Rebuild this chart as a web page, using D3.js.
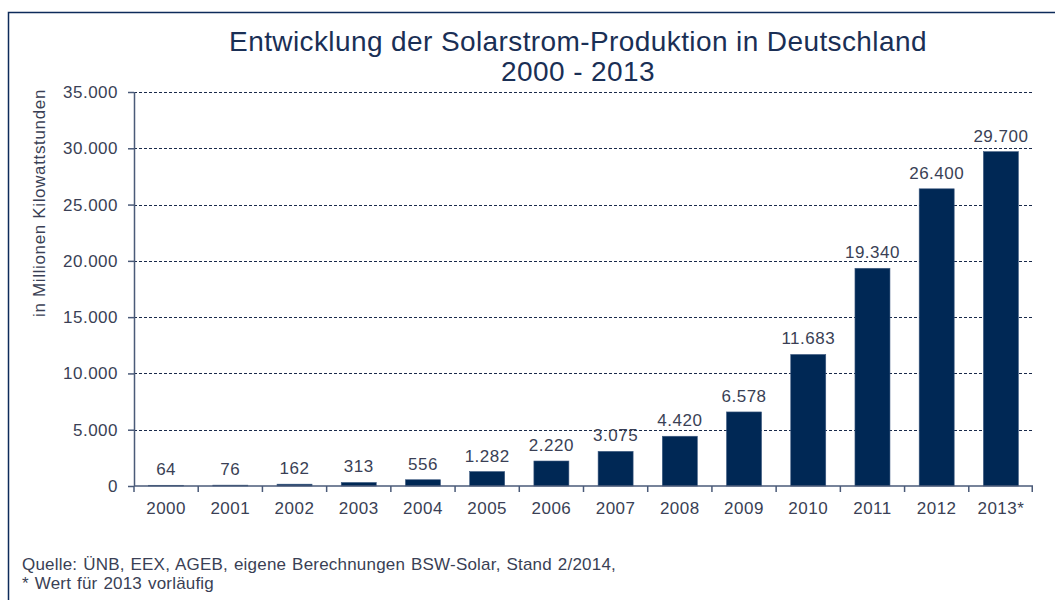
<!DOCTYPE html>
<html>
<head>
<meta charset="utf-8">
<script src="https://cdn.jsdelivr.net/npm/d3@7"></script>
<style>
	body { margin: 0; background: #fff; }
	text { font-family: "Liberation Sans", Arial, sans-serif; }
</style>
</head>
<body>
<div id="chart"></div>
<script>
'use strict';

// chart data
const years = ["2000", "2001", "2002", "2003", "2004", "2005", "2006",
	"2007", "2008", "2009", "2010", "2011", "2012", "2013*"];
const production = [64, 76, 162, 313, 556, 1282, 2220, 3075, 4420, 6578,
	11683, 19340, 26400, 29700];
const yTicks = [0, 5000, 10000, 15000, 20000, 25000, 30000, 35000];
const titleLines = ["Entwicklung der Solarstrom-Produktion in Deutschland", "2000 - 2013"];
const yLabel = "in Millionen Kilowattstunden";
const notes = ["Quelle: ÜNB, EEX, AGEB, eigene Berechnungen BSW-Solar, Stand 2/2014,",
	"* Wert für 2013 vorläufig"];

const width = 1055, height = 600;
const margin = { top: 92, right: 22, bottom: 114, left: 134 };
const navy = "#002855";
const textCol = "#3a3f55";
const fs = 17;
const ls = 0.5;

const de = d3.formatLocale({ decimal: ",", thousands: ".", grouping: [3], currency: ["", " €"] });
const fmt = de.format(",d");

const svg = d3.select("#chart")
	.append("svg")
		.attr("width", width)
		.attr("height", height);

// outer frame
svg.append("rect")
	.attr("x", 8.5)
	.attr("y", 12.5)
	.attr("width", width)
	.attr("height", height)
	.attr("fill", "none")
	.attr("stroke", "#0d2b5a")
	.attr("stroke-width", 1.5);

const innerH = height - margin.top - margin.bottom;
const innerW = width - margin.left - margin.right;

const bounds = svg.append("g")
	.attr("transform", `translate(${margin.left},${margin.top})`);

const x = d3.scaleBand()
	.domain(years)
	.range([0, innerW])
	.paddingInner(0.455)
	.paddingOuter(0.2275);

const y = d3.scaleLinear()
	.domain([0, 35000])
	.range([innerH, 0]);

// gridlines
bounds.append("g")
	.selectAll("line")
	.data(yTicks.filter(d => d > 0))
	.join("line")
		.attr("x1", 0)
		.attr("x2", innerW)
		.attr("y1", d => Math.round(y(d)) + 0.5)
		.attr("y2", d => Math.round(y(d)) + 0.5)
		.attr("stroke", "#1a2a4a")
		.attr("stroke-width", 1)
		.attr("stroke-dasharray", "3,2");

// bars
bounds.append("g")
	.selectAll("rect")
	.data(production)
	.join("rect")
		.attr("x", (d, i) => x(years[i]))
		.attr("y", d => y(d))
		.attr("width", x.bandwidth())
		.attr("height", d => innerH - y(d))
		.attr("fill", navy)
		.attr("stroke", "#3d5a80")
		.attr("stroke-width", 0.6);

// value labels
bounds.append("g")
	.selectAll("text")
	.data(production)
	.join("text")
		.attr("x", (d, i) => x(years[i]) + x.bandwidth() / 2)
		.attr("y", d => y(d) - 10)
		.attr("text-anchor", "middle")
		.attr("font-size", fs)
		.attr("letter-spacing", ls)
		.attr("fill", textCol)
		.text(d => fmt(d));

// y axis
const yAxis = bounds.append("g")
	.call(d3.axisLeft(y).tickValues(yTicks).tickSize(6).tickPadding(10).tickFormat(fmt));
yAxis.select(".domain").attr("stroke", "#4a5a78").attr("stroke-width", 1.5).attr("d", `M0.5,${innerH}V0`);
yAxis.selectAll(".tick line").attr("stroke", "#4a5a78").attr("stroke-width", 1.5);
yAxis.selectAll(".tick text")
	.attr("font-size", fs)
	.attr("letter-spacing", ls)
	.attr("font-family", "Liberation Sans, Arial, sans-serif")
	.attr("fill", textCol);

// x axis: ticks sit on band boundaries
const xAxis = bounds.append("g")
	.attr("transform", `translate(0,${innerH})`);
xAxis.append("line")
	.attr("x1", 0)
	.attr("x2", innerW)
	.attr("stroke", "#4a5a78")
	.attr("stroke-width", 1.5);
const step = x.step();
xAxis.selectAll("line.tk")
	.data(d3.range(years.length + 1))
	.join("line")
		.attr("class", "tk")
		.attr("x1", i => Math.min(i * step, innerW - 0.75))
		.attr("x2", i => Math.min(i * step, innerW - 0.75))
		.attr("y1", 0)
		.attr("y2", 6)
		.attr("stroke", "#4a5a78")
		.attr("stroke-width", 1.5);
xAxis.selectAll("text")
	.data(years)
	.join("text")
		.attr("x", d => x(d) + x.bandwidth() / 2)
		.attr("y", 28)
		.attr("text-anchor", "middle")
		.attr("font-size", fs)
		.attr("letter-spacing", ls)
		.attr("fill", textCol)
		.text(d => d);

// title
svg.append("g")
	.selectAll("text")
	.data(titleLines)
	.join("text")
		.attr("x", 578)
		.attr("y", (d, i) => 51 + i * 30)
		.attr("text-anchor", "middle")
		.attr("font-size", 28)
		.attr("letter-spacing", 0.4)
		.attr("fill", "#1a2f55")
		.text(d => d);

// y axis title
svg.append("text")
	.attr("transform", "translate(45,203) rotate(-90)")
	.attr("text-anchor", "middle")
	.attr("font-size", fs)
	.attr("letter-spacing", 0.65)
	.attr("fill", textCol)
	.text(yLabel);

// source notes
svg.append("g")
	.selectAll("text")
	.data(notes)
	.join("text")
		.attr("x", 22)
		.attr("y", (d, i) => 570 + i * 19)
		.attr("font-size", 17)
		.attr("letter-spacing", 0.2)
		.attr("word-spacing", 1)
		.attr("fill", textCol)
		.text(d => d);
</script>
</body>
</html>
